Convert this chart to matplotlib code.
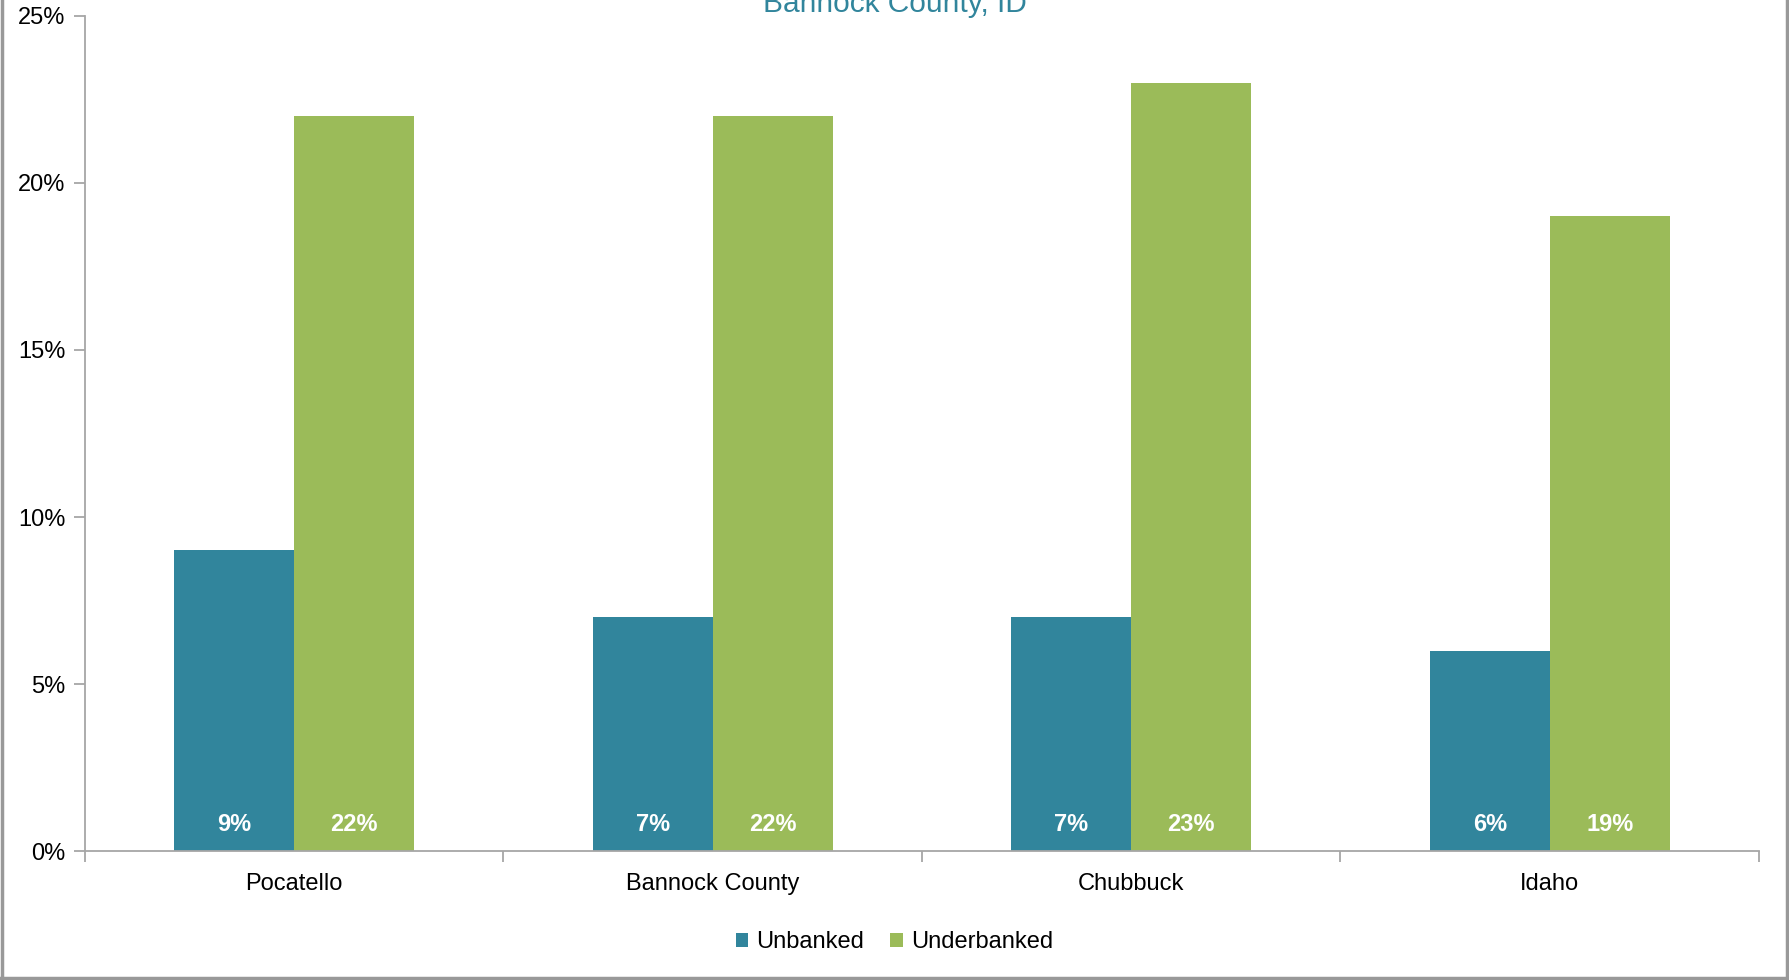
import numpy as np
import matplotlib
matplotlib.use("Agg")
import matplotlib.pyplot as plt
from matplotlib.lines import Line2D

plt.rcParams['font.family'] = ['Liberation Sans', 'DejaVu Sans']

# data (percent)
places = ["Pocatello", "Bannock County", "Chubbuck", "Idaho"]
unbanked = [9, 7, 7, 6]
underbanked = [22, 22, 23, 19]
series_names = ["Unbanked", "Underbanked"]
yticks = [0, 5, 10, 15, 20, 25]

teal = "#31859C"
green = "#9BBB59"
grey = "#A6A6A6"

fig = plt.figure(figsize=(17.89, 9.8), dpi=100)
ax = fig.add_axes([0.0475, 0.1316, 0.9357, 0.8521])

x = np.arange(len(places))
w = 0.2865
b1 = ax.bar(x - w/2, unbanked, w, color=teal, label=series_names[0])
b2 = ax.bar(x + w/2, underbanked, w, color=green, label=series_names[1])

for bars, vals in [(b1, unbanked), (b2, underbanked)]:
    for r, v in zip(bars, vals):
        ax.text(r.get_x() + r.get_width()/2, 0.8, "{}%".format(v), ha='center', va='center',
                color='white', fontsize=17, fontweight='bold')

ax.set_xlim(-0.5, len(places) - 0.5)
ax.set_ylim(0, 25)
ax.set_yticks(yticks)
ax.set_yticklabels(["{}%".format(t) for t in yticks], fontsize=17)
ax.set_xticks(x)
ax.set_xticklabels(places, fontsize=17)
ax.set_xticks(np.arange(len(places) + 1) - 0.5, minor=True)
ax.tick_params(axis='x', which='major', length=0, pad=16)
ax.tick_params(axis='x', which='minor', length=8, color=grey, width=1.3)
ax.tick_params(axis='y', length=8, color=grey, width=1.3, pad=6)

for s in ['top', 'right']:
    ax.spines[s].set_visible(False)
for s in ['left', 'bottom']:
    ax.spines[s].set_color(grey)
    ax.spines[s].set_linewidth(1.3)

fig.text(0.5, 0.9878, "Bannock County, ID", ha='center', va='baseline', fontsize=21.5, color=teal)

ax.legend(frameon=False, loc='center', bbox_to_anchor=(0.5, 0.0385), bbox_transform=fig.transFigure,
          ncol=2, fontsize=17, handlelength=0.55, handleheight=0.55, handletextpad=0.34, columnspacing=1.1)

# outer border (left, right, bottom)
border = "#999999"
fig.add_artist(Line2D([0.001, 0.001], [0, 1], transform=fig.transFigure, color=border, lw=2.5))
fig.add_artist(Line2D([0.999, 0.999], [0, 1], transform=fig.transFigure, color=border, lw=2.5))
fig.add_artist(Line2D([0, 1], [0.002, 0.002], transform=fig.transFigure, color=border, lw=2.5))

fig.savefig("out.png", dpi=100)
